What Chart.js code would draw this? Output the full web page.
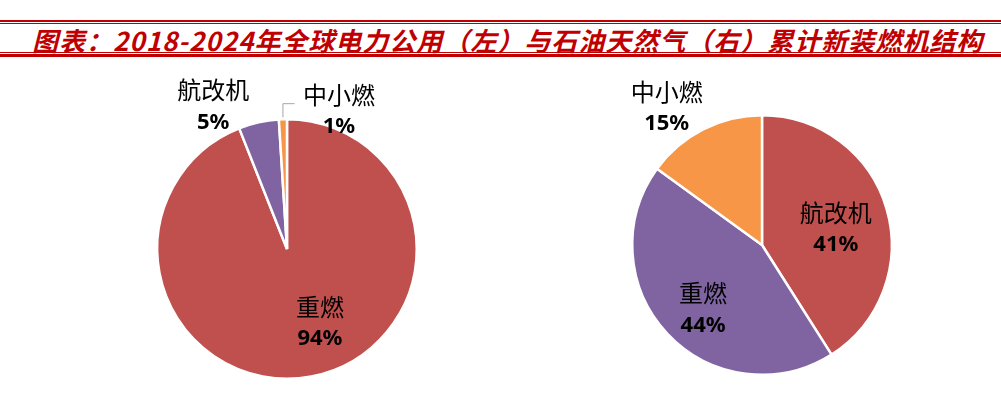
<!DOCTYPE html>
<html>
<head>
<meta charset="utf-8">
<script src="https://cdn.jsdelivr.net/npm/chart.js@4.4.1/dist/chart.umd.min.js"></script>
<style>
    body { margin: 0; background: #fff; width: 1001px; height: 420px; overflow: hidden; position: relative; }
    .rule { position: absolute; left: 0; width: 1001px; background: #C00000; }
    #title {
        position: absolute; left: 32px; top: 24px; white-space: nowrap;
        font-family: "Noto Sans CJK SC", sans-serif; font-weight: 700; font-style: italic;
        font-size: 26px; letter-spacing: 1px; color: #C00000; line-height: 32px;
    }
    canvas { position: absolute; }
</style>
</head>
<body>
<div class="rule" style="top:20px;height:2px"></div>
<div class="rule" style="top:23px;height:1px"></div>
<div id="title">图表：2018-2024年全球电力公用（左）与石油天然气（右）累计新装燃机结构</div>
<div class="rule" style="top:52px;height:1px"></div>
<div class="rule" style="top:54px;height:3px"></div>

<canvas id="leftPie" width="500" height="360" style="left:0;top:60px"></canvas>
<canvas id="rightPie" width="501" height="360" style="left:500px;top:60px"></canvas>

<script>
// 全球电力公用 (left)
const leftLabels = ['重燃', '航改机', '中小燃'];
const leftValues = [94, 5, 1];

// 石油天然气 (right)
const rightLabels = ['航改机', '重燃', '中小燃'];
const rightValues = [41, 44, 15];

const sliceColors = ['#C0504D', '#8064A2', '#F79646'];

// label text, name on top + bold percent under it
const pieLabels = {
    id: 'pieLabels',
    afterDatasetsDraw(chart) {
        const opts = chart.options.plugins.pieLabels;
        const ctx = chart.ctx;
        const meta = chart.getDatasetMeta(0);
        const values = chart.data.datasets[0].data;
        const total = values.reduce((a, b) => a + b, 0);

        meta.data.forEach((arc, i) => {
            const { x, y, outerRadius, startAngle, endAngle } = arc.getProps(['x', 'y', 'outerRadius', 'startAngle', 'endAngle'], true);
            const p = opts.pos[i];
            const lx = x + p[0] * outerRadius;
            const ly = y + p[1] * outerRadius;

            ctx.save();
            ctx.textAlign = 'center';
            ctx.textBaseline = 'middle';
            ctx.fillStyle = '#000';
            ctx.font = '24px "Noto Sans CJK SC"';
            ctx.fillText(chart.data.labels[i], lx, ly - 16);
            ctx.font = 'bold 22px "Noto Sans"';
            ctx.fillText(Math.round(values[i] / total * 100) + '%', lx, ly + 16);

            // leader line for the thin slice
            if (opts.leader && opts.leader.index === i) {
                const mid = (startAngle + endAngle) / 2;
                const sx = x + Math.cos(mid) * outerRadius;
                const sy = y + Math.sin(mid) * outerRadius;
                const cy = y - opts.leader.rise * outerRadius;
                ctx.strokeStyle = '#A6A6A6';
                ctx.lineWidth = 1;
                ctx.beginPath();
                ctx.moveTo(sx, sy - 2);
                ctx.lineTo(sx, cy);
                ctx.lineTo(sx + opts.leader.run * outerRadius, cy);
                ctx.stroke();
            }
            ctx.restore();
        });
    }
};

function makePie(canvasId, labels, values, padding, labelOpts) {
    return new Chart(document.getElementById(canvasId), {
        type: 'pie',
        data: {
            labels: labels,
            datasets: [{
                data: values,
                backgroundColor: sliceColors,
                borderColor: '#fff',
                borderWidth: 2.5
            }]
        },
        options: {
            responsive: false,
            animation: false,
            layout: { padding: padding },
            plugins: {
                legend: { display: false },
                tooltip: { enabled: false },
                pieLabels: labelOpts
            }
        },
        plugins: [pieLabels]
    });
}

makePie('leftPie', leftLabels, leftValues,
    { left: 156, right: 82, top: 58, bottom: 40 },
    {
        pos: [[0.254, 0.57], [-0.569, -1.10], [0.40, -1.065]],
        leader: { index: 2, rise: 1.12, run: 0.09 }
    });

makePie('rightPie', rightLabels, rightValues,
    { left: 131, right: 108, top: 54, bottom: 44 },
    {
        pos: [[0.569, -0.123], [-0.454, 0.496], [-0.735, -1.058]]
    });
</script>
</body>
</html>
